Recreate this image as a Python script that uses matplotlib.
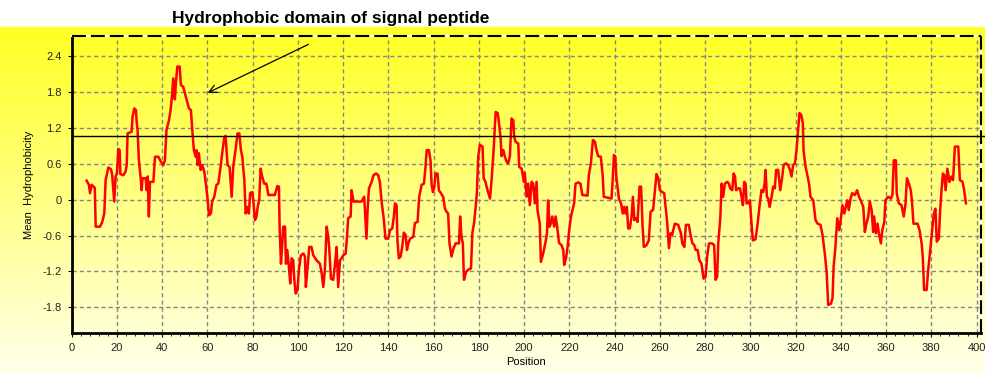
import matplotlib
matplotlib.use("Agg")
import matplotlib.pyplot as plt
import numpy as np

plt.rcParams['font.family'] = ['Liberation Sans', 'DejaVu Sans']
plt.rcParams['lines.scale_dashes'] = False

# Hydropathy profile (sliding window mean)
position = [
    6.6, 7.6, 8.1, 8.8, 9.6, 10.2, 10.6, 12.5, 13.5, 14.4, 15.0, 16.2, 17.4, 17.9, 18.8, 19.4,
    20.0, 20.6, 21.2, 21.5, 22.8, 23.8, 24.3, 24.7, 26.5, 26.9, 27.7, 28.4, 28.7, 29.1, 29.7,
    30.5, 30.9, 31.3, 32.7, 33.1, 33.6, 34.1, 34.6, 36.1, 36.8, 38.3, 39.4, 40.5, 41.2, 41.9,
    43.0, 43.7, 44.3, 44.9, 45.6, 46.1, 46.7, 47.7, 48.3, 49.3, 50.5, 51.8, 52.7, 53.3, 54.0,
    54.8, 55.2, 55.7, 56.2, 57.0, 57.7, 58.6, 59.3, 60.1, 60.7, 61.5, 62.1, 63.0, 64.0, 64.8,
    65.8, 66.7, 67.4, 68.0, 68.9, 69.8, 70.7, 71.4, 72.4, 73.3, 74.1, 74.8, 75.4, 76.3, 76.9,
    77.5, 78.3, 78.9, 79.8, 80.4, 81.0, 81.7, 82.2, 82.9, 83.5, 84.2, 85.1, 86.1, 86.9, 89.8,
    90.9, 91.6, 91.9, 92.5, 93.1, 93.5, 94.3, 94.7, 95.3, 96.0, 96.6, 97.2, 97.9, 98.4, 99.0,
    99.8, 100.4, 101.3, 102.4, 103.1, 103.5, 104.3, 105.0, 106.0, 106.8, 108.2, 109.7, 110.5,
    111.2, 111.9, 112.7, 113.4, 113.8, 114.6, 115.6, 116.4, 117.1, 117.8, 118.6, 119.3, 120.0,
    121.1, 121.7, 122.2, 123.3, 123.7, 124.6, 128.1, 129.3, 130.3, 130.8, 131.4, 132.6, 133.4,
    134.5, 135.5, 136.2, 137.0, 138.0, 138.7, 139.9, 140.7, 141.7, 142.4, 142.9, 143.6, 144.0,
    144.6, 145.4, 146.1, 146.8, 147.6, 148.2, 148.8, 149.6, 151.0, 151.7, 152.9, 153.6, 154.7,
    155.7, 156.4, 156.9, 157.9, 158.6, 159.1, 159.7, 160.3, 160.8, 161.7, 162.3, 163.2, 164.2,
    165.0, 165.7, 166.4, 167.0, 167.9, 168.8, 169.7, 171.2, 171.7, 172.3, 172.9, 173.4, 174.3,
    175.3, 176.5, 177.1, 177.8, 178.5, 179.1, 179.7, 180.4, 181.6, 182.1, 182.9, 183.8, 184.9,
    185.6, 186.5, 187.4, 188.3, 188.8, 189.6, 190.0, 190.8, 191.5, 192.2, 192.9, 193.7, 194.4,
    195.2, 195.6, 196.2, 197.4, 197.8, 198.9, 199.9, 200.3, 201.1, 201.8, 202.5, 203.3, 204.0,
    204.7, 205.5, 205.9, 206.9, 207.4, 208.4, 209.5, 210.1, 210.6, 211.2, 211.8, 212.4, 213.3,
    213.9, 214.6, 215.4, 216.5, 217.3, 217.7, 218.5, 219.2, 219.9, 220.7, 221.4, 222.1, 222.7,
    223.9, 224.9, 225.7, 228.0, 228.6, 229.5, 230.4, 231.3, 232.0, 232.7, 233.9, 234.7, 235.2,
    238.6, 239.1, 239.7, 240.3, 240.8, 241.9, 242.8, 243.6, 244.2, 244.8, 245.4, 246.0, 246.7,
    247.5, 248.1, 248.7, 249.4, 250.1, 251.0, 251.7, 252.3, 252.9, 254.1, 255.1, 255.9, 257.0,
    257.8, 258.5, 259.3, 260.0, 261.0, 261.9, 262.5, 263.2, 264.0, 264.7, 265.4, 266.6, 268.1,
    269.3, 269.9, 270.8, 271.5, 272.8, 273.7, 274.4, 275.2, 275.8, 276.7, 277.4, 278.4, 279.3,
    280.2, 280.9, 281.7, 283.1, 284.0, 284.6, 285.3, 285.8, 286.7, 287.3, 288.0, 288.7, 289.8,
    290.5, 291.1, 292.0, 292.6, 293.2, 293.7, 294.6, 295.4, 296.1, 296.7, 297.3, 297.9, 298.3,
    299.0, 299.8, 300.5, 301.1, 302.3, 303.2, 304.0, 304.9, 305.7, 306.3, 306.7, 307.3, 307.9,
    308.5, 309.4, 310.1, 310.8, 311.4, 312.3, 313.2, 313.9, 314.7, 315.7, 316.7, 317.5, 318.2,
    318.9, 319.7, 320.4, 321.1, 321.7, 322.5, 323.2, 323.5, 324.4, 325.3, 326.0, 326.6, 327.8,
    328.8, 329.7, 331.0, 331.9, 332.9, 333.7, 334.4, 335.6, 336.3, 336.8, 337.6, 338.4, 339.3,
    340.0, 340.7, 341.5, 342.2, 342.8, 343.5, 344.3, 345.0, 346.2, 347.2, 348.0, 348.8, 349.9,
    350.6, 351.3, 352.1, 352.8, 353.6, 354.3, 354.7, 355.5, 356.2, 356.8, 357.7, 358.3, 359.2,
    359.7, 360.9, 362.1, 362.8, 363.4, 364.3, 364.7, 365.6, 366.8, 367.8, 368.6, 369.2, 370.1,
    370.9, 371.5, 372.1, 373.9, 374.8, 375.7, 376.2, 376.8, 377.9, 378.6, 379.5, 380.4, 381.1,
    381.8, 382.4, 383.3, 383.9, 384.5, 385.1, 385.7, 386.3, 387.1, 388.0, 388.9, 389.6, 390.4,
    391.9, 392.6, 393.8, 394.5, 395.3,
]
hydrophobicity = [
    0.32, 0.25, 0.11, 0.25, 0.22, 0.20, -0.45, -0.45, -0.37, -0.23, 0.33, 0.54, 0.51, 0.41, -0.03, 0.39,
    0.44, 0.85, 0.83, 0.43, 0.41, 0.47, 0.58, 1.11, 1.14, 1.39, 1.53, 1.50, 1.31, 1.17, 0.66,
    0.36, 0.16, 0.36, 0.36, 0.16, 0.39, -0.28, 0.30, 0.30, 0.72, 0.72, 0.64, 0.58, 0.66, 1.17,
    1.33, 1.50, 1.72, 2.03, 1.68, 1.98, 2.23, 2.23, 1.92, 1.89, 1.72, 1.53, 1.50, 1.17, 0.83,
    0.72, 0.83, 0.58, 0.78, 0.50, 0.58, 0.47, 0.27, 0.00, -0.26, -0.23, -0.03, 0.05, 0.25, 0.27,
    0.55, 0.83, 1.03, 1.07, 0.58, 0.55, 0.05, 0.55, 0.83, 1.11, 1.11, 0.83, 0.72, 0.33, -0.23,
    -0.12, -0.23, 0.11, 0.13, -0.06, -0.34, -0.28, -0.12, 0.00, 0.52, 0.39, 0.27, 0.27, 0.08, 0.08,
    0.23, 0.22, -0.45, -1.07, -0.73, -0.45, -0.45, -1.07, -0.84, -1.12, -1.40, -0.98, -1.01, -1.34, -1.57,
    -1.51, -1.18, -0.93, -0.90, -0.95, -1.46, -1.12, -0.79, -0.79, -0.93, -1.01, -1.07, -1.23,
    -1.46, -1.18, -0.45, -0.62, -0.79, -1.32, -1.34, -1.07, -0.79, -1.46, -1.01, -0.98, -0.93,
    -0.90, -0.62, -0.31, -0.28, 0.16, -0.03, -0.03, 0.05, -0.65, -0.17, 0.19, 0.30, 0.41,
    0.44, 0.41, 0.30, -0.03, -0.34, -0.65, -0.65, -0.51, -0.48, -0.28, -0.06, -0.09, -0.68,
    -0.98, -0.95, -0.79, -0.55, -0.59, -0.84, -0.73, -0.65, -0.62, -0.39, -0.37, 0.05, 0.25,
    0.27, 0.55, 0.83, 0.83, 0.66, 0.25, 0.13, 0.22, 0.44, 0.44, 0.16, 0.11, 0.05,
    -0.15, -0.20, -0.23, -0.73, -0.95, -0.81, -0.73, -0.73, -0.28, -0.62, -0.73, -1.34, -1.21,
    -1.17, -1.15, -0.56, -0.40, -0.15, 0.11, 0.72, 0.92, 0.89, 0.36, 0.30, 0.16, 0.02,
    0.33, 0.83, 1.47, 1.45, 1.31, 1.03, 0.73, 0.83, 0.72, 0.64, 0.61, 0.72, 1.36,
    1.33, 1.05, 0.97, 0.94, 0.55, 0.52, 0.30, 0.45, 0.05, 0.27, -0.09, 0.30, 0.27,
    -0.06, 0.30, -0.17, -0.40, -1.04, -0.90, -0.70, -0.56, -0.01, -0.45, -0.40, -0.28, -0.45,
    -0.28, -0.45, -0.72, -0.76, -0.84, -1.09, -0.98, -0.79, -0.51, -0.28, -0.17, -0.06, 0.27,
    0.29, 0.27, 0.08, 0.07, 0.41, 0.61, 1.00, 0.97, 0.83, 0.73, 0.72, 0.41, 0.05,
    0.02, 0.30, 0.75, 0.72, 0.36, 0.02, -0.06, -0.23, -0.12, -0.23, -0.12, -0.48, -0.48,
    -0.28, 0.05, -0.34, -0.31, -0.37, 0.22, 0.22, -0.40, -0.79, -0.76, -0.68, -0.20, -0.17,
    0.16, 0.43, 0.36, 0.16, 0.13, 0.11, -0.12, -0.37, -0.81, -0.56, -0.59, -0.40, -0.42,
    -0.56, -0.73, -0.79, -0.42, -0.42, -0.62, -0.73, -0.76, -0.84, -0.84, -1.01, -1.07, -1.32,
    -1.29, -0.95, -0.73, -0.73, -0.76, -1.34, -1.29, -0.73, -0.31, 0.27, 0.05, 0.27, 0.30,
    0.27, 0.19, 0.16, 0.44, 0.39, 0.16, 0.19, 0.19, 0.05, -0.09, 0.30, 0.27, -0.06,
    -0.06, -0.01, -0.40, -0.68, -0.66, -0.40, -0.12, 0.16, 0.13, 0.27, 0.50, 0.05, 0.02,
    -0.12, 0.05, 0.22, 0.19, 0.50, 0.50, 0.16, 0.33, 0.58, 0.61, 0.58, 0.50, 0.39,
    0.58, 0.61, 0.83, 1.17, 1.45, 1.42, 1.28, 0.83, 0.55, 0.39, 0.25, 0.05, -0.01,
    -0.34, -0.40, -0.42, -0.59, -0.90, -1.21, -1.76, -1.74, -1.65, -1.12, -0.79, -0.31, -0.51,
    -0.31, -0.09, -0.23, -0.12, -0.01, -0.17, 0.02, 0.11, 0.08, 0.16, 0.05, -0.01, -0.12,
    -0.54, -0.40, -0.28, -0.03, -0.17, -0.54, -0.28, -0.56, -0.40, -0.56, -0.73, -0.51, -0.37,
    -0.01, 0.05, 0.02, 0.08, 0.66, 0.66, 0.11, -0.06, -0.09, -0.28, -0.06, 0.36, 0.27,
    0.16, -0.06, -0.40, -0.40, -0.51, -0.73, -0.95, -1.51, -1.51, -1.18, -0.84, -0.51, -0.23,
    -0.15, -0.70, -0.65, -0.17, 0.16, 0.44, 0.41, 0.16, 0.52, 0.30, 0.39, 0.33, 0.89,
    0.89, 0.33, 0.30, 0.16, -0.06,
]

threshold = 1.07
x_ticks = list(range(0, 401, 20))
y_ticks = [-1.8, -1.2, -0.6, 0, 0.6, 1.2, 1.8, 2.4]
y_labels = ['-1.8', '-1.2', '-0.6', '0', '0.6', '1.2', '1.8', '2.4']

fig = plt.figure(figsize=(9.85, 3.74), dpi=100, facecolor='white')

# yellow gradient behind everything below the title strip
bg = fig.add_axes([0, 0, 1, 0.928], zorder=-1)
grad = np.linspace(0, 1, 256).reshape(-1, 1)
top = np.array([1.0, 1.0, 0.13])
bottom = np.array([1.0, 1.0, 0.92])
img = top + (bottom - top) * grad
bg.imshow(img[:, None, :].repeat(2, axis=1), aspect='auto', extent=[0, 1, 0, 1])
bg.axis('off')

ax = fig.add_axes([0.0728, 0.1096, 0.9228, 0.794])
ax.set_facecolor('none')

ax.plot(position, hydrophobicity, color='#ff0000', lw=1.8, zorder=3)

ax.set_xlim(0, 401.8)
ax.set_ylim(-2.23, 2.74)
ax.set_xticks(x_ticks)
ax.set_xticks(np.arange(0, 401, 4), minor=True)
ax.set_yticks(y_ticks)
ax.set_yticklabels(y_labels)
ax.tick_params(labelsize=8, length=3, width=0.8, pad=4, labelcolor='#222222')
ax.tick_params(which='minor', length=2, width=0.6)

ax.grid(True, color='#858585', lw=1.0, linestyle=(0, (3.0, 2.2)))
ax.set_axisbelow(True)

for side in ('left', 'bottom'):
    ax.spines[side].set_linewidth(2)
    ax.spines[side].set_color('black')
for side in ('top', 'right'):
    ax.spines[side].set_color('white')
    ax.spines[side].set_linewidth(1.5)
ax.plot([0, 1], [1, 1], transform=ax.transAxes, color='black', lw=1.5,
        linestyle=(0, (10, 3.6)), clip_on=False, zorder=4)
ax.plot([1, 1], [0, 1], transform=ax.transAxes, color='black', lw=1.5,
        linestyle=(0, (10, 3.6)), clip_on=False, zorder=4)

# cut-off line runs past the right border
ax.plot([0, 1.01], [threshold, threshold], transform=ax.get_yaxis_transform(),
        color='black', lw=1.0, clip_on=False, zorder=4)

ax.set_xlabel('Position', fontsize=8, labelpad=3)
ax.set_ylabel('Mean  Hydrophobicity', fontsize=8, labelpad=6)

ax.annotate('', xy=(60.1, 1.79), xytext=(104.6, 2.60),
            arrowprops=dict(arrowstyle='->', color='black', lw=0.9,
                            mutation_scale=14, shrinkA=0, shrinkB=0),
            annotation_clip=False, zorder=5)
fig.text(331 / 985, 1 - 18 / 374, 'Hydrophobic domain of signal peptide',
         fontsize=12.5, fontweight='bold', ha='center', va='center')

fig.savefig('out.png', dpi=100)
